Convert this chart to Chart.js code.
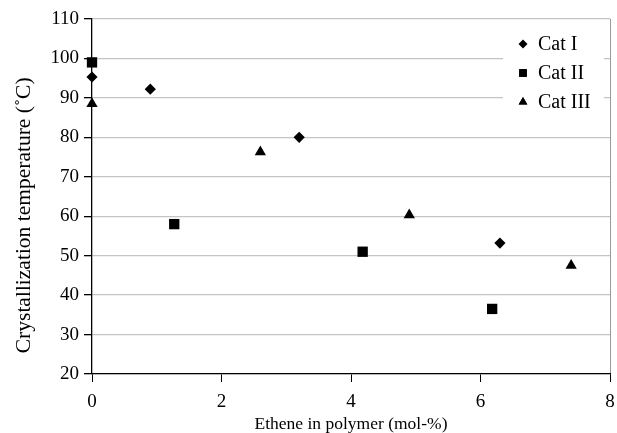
<!DOCTYPE html>
<html>
<head>
<meta charset="utf-8">
<script src="https://cdn.jsdelivr.net/npm/chart.js@4/dist/chart.umd.min.js"></script>
<style>
  html, body { margin: 0; padding: 0; background: #fff; }
  #wrap { width: 617px; height: 433px; }
</style>
</head>
<body>
<div id="wrap"><canvas id="grafico" width="617" height="433"></canvas></div>
<script>
// Dados
const seriesNames = ['Cat I', 'Cat II', 'Cat III'];
const catIx = [0, 0.9, 3.2, 6.3];
const catIy = [95.3, 92.2, 80, 53.2];
const catIIx = [0, 1.27, 4.18, 6.18];
const catIIy = [99, 58, 51, 36.5];
const catIIIx = [0, 2.6, 4.9, 7.4];
const catIIIy = [88.5, 76.3, 60.3, 47.5];
const xTicks = [0, 2, 4, 6, 8];
const yTicks = [20, 30, 40, 50, 60, 70, 80, 90, 100, 110];
const yTitle = 'Crystallization temperature (˚C)';

const fonte = 'Liberation Serif';

function pontos(xs, ys) {
  return xs.map((x, i) => ({ x: x, y: ys[i] }));
}

// Legenda desenhada dentro da área do gráfico + título do eixo y
const legendaInterna = {
  id: 'legendaInterna',
  afterDraw(chart) {
    const ctx = chart.ctx;
    const area = chart.chartArea;
    const x0 = area.right - 87;
    let y = area.top + 25;
    ctx.save();
    ctx.fillStyle = '#fff';
    ctx.fillRect(area.right - 107, area.top + 6, 101, 92);
    chart.data.datasets.forEach(ds => {
      Chart.helpers.drawPoint(ctx, {
        pointStyle: ds.pointStyle,
        radius: ds.legendRadius,
        borderWidth: 0
      }, x0, y);
      ctx.fillStyle = '#000';
      ctx.fill();
      ctx.font = '20px "' + fonte + '"';
      ctx.textBaseline = 'middle';
      ctx.textAlign = 'left';
      ctx.fillText(ds.label, x0 + 15, y + 1);
      y += 29;
    });
    ctx.restore();

    // título do eixo y, um pouco abaixo do centro como no original
    ctx.save();
    ctx.translate(24, area.top + (area.bottom - area.top) * 0.553);
    ctx.rotate(-Math.PI / 2);
    ctx.fillStyle = '#000';
    ctx.font = '21.5px "' + fonte + '"';
    ctx.textAlign = 'center';
    ctx.textBaseline = 'middle';
    ctx.fillText(yTitle, 0, 0);
    ctx.restore();
  }
};

const config = {
  type: 'scatter',
  data: {
    datasets: [
      { label: seriesNames[0], data: pontos(catIx, catIy), pointStyle: 'rectRot', pointRadius: 5.6, legendRadius: 4.5, backgroundColor: '#000', borderColor: '#000', borderWidth: 0, clip: false },
      { label: seriesNames[1], data: pontos(catIIx, catIIy), pointStyle: 'rect', pointRadius: 7.3, legendRadius: 5.4, backgroundColor: '#000', borderColor: '#000', borderWidth: 0, clip: false },
      { label: seriesNames[2], data: pontos(catIIIx, catIIIy), pointStyle: 'triangle', pointRadius: 6.5, legendRadius: 5, backgroundColor: '#000', borderColor: '#000', borderWidth: 0, clip: false }
    ]
  },
  options: {
    responsive: false,
    devicePixelRatio: 1,
    animation: false,
    events: [],
    layout: { autoPadding: false, padding: { left: 0, right: 7, top: 19, bottom: 0 } },
    plugins: {
      legend: { display: false },
      tooltip: { enabled: false }
    },
    scales: {
      x: {
        type: 'linear',
        min: 0,
        max: 8,
        afterBuildTicks: s => { s.ticks = xTicks.map(v => ({ value: v })); },
        afterFit: s => { s.height = 59; s.paddingLeft = 0; s.paddingRight = 0; },
        grid: {
          color: c => (c.tick && c.tick.value === 8 ? '#999' : 'rgba(0,0,0,0)'),
          tickColor: '#000',
          tickLength: 8,
          drawOnChartArea: true
        },
        border: { color: '#000', width: 1.3 },
        ticks: { color: '#000', font: { family: fonte, size: 19 }, padding: 9, maxRotation: 0 },
        title: { display: true, text: 'Ethene in polymer (mol-%)', color: '#000', font: { family: fonte, size: 17.5, lineHeight: 1 }, padding: { top: 0, bottom: 0 } }
      },
      y: {
        type: 'linear',
        min: 20,
        max: 110,
        afterBuildTicks: s => { s.ticks = yTicks.map(v => ({ value: v })); },
        afterFit: s => { s.width = 92; s.paddingTop = 0; s.paddingBottom = 0; },
        grid: { color: '#c4c4c4', tickColor: '#000', tickLength: 8, lineWidth: 1.3 },
        border: { color: '#000', width: 1.3 },
        ticks: { color: '#000', font: { family: fonte, size: 19 }, padding: 5 },
        title: { display: false }
      }
    }
  },
  plugins: [legendaInterna]
};

const ctx = document.getElementById('grafico').getContext('2d');
new Chart(ctx, config);
</script>
</body>
</html>
